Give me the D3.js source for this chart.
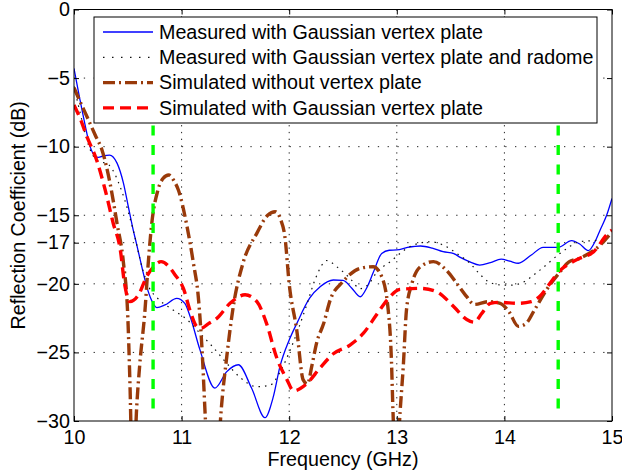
<!DOCTYPE html>
<html>
<head>
<meta charset="utf-8">
<script src="https://cdn.jsdelivr.net/npm/d3@7"></script>
<style>
  body { margin: 0; background: #fff; }
  text { font-family: "Liberation Sans", Arial, sans-serif; font-size: 19.7px; fill: #000; }
</style>
</head>
<body>
<div id="chart"></div>
<script>
// values: [frequency GHz, reflection dB]
var measured = [[10.0,-4.3],[10.056,-6.6],[10.10,-8.3],[10.15,-10.0],[10.195,-10.68],[10.226,-10.78],[10.27,-10.68],
  [10.33,-10.61],[10.40,-11.2],[10.46,-12.67],[10.505,-14.38],[10.55,-16.07],[10.58,-17.05],[10.63,-18.75],
  [10.676,-20.2],[10.72,-21.18],[10.77,-21.74],[10.846,-21.54],[10.955,-21.06],[11.03,-21.42],[11.08,-22.4],
  [11.17,-24.8],[11.31,-27.6],[11.42,-26.4],[11.527,-25.9],[11.65,-27.6],[11.775,-29.76],[11.85,-28.3],
  [11.915,-26.0],[12.0,-24.1],[12.07,-22.9],[12.19,-21.05],[12.29,-20.2],[12.41,-19.72],[12.50,-19.75],
  [12.58,-20.3],[12.66,-20.94],[12.72,-20.3],[12.78,-19.2],[12.86,-17.78],[12.93,-17.55],[13.0,-17.53],
  [13.1,-17.35],[13.22,-17.24],[13.33,-17.4],[13.43,-17.66],[13.53,-17.8],[13.59,-18.07],[13.68,-18.4],
  [13.77,-18.63],[13.87,-18.45],[13.97,-18.2],[14.05,-18.35],[14.13,-18.5],[14.25,-17.9],[14.36,-17.34],
  [14.5,-17.34],[14.625,-16.85],[14.70,-17.1],[14.78,-17.58],[14.85,-16.8],[14.89,-16.07],[14.95,-15.0],[15.0,-13.77]];

var measuredRadome = [[10.0,-5.6],[10.05,-7.3],[10.09,-8.6],[10.14,-10.0],[10.2,-10.9],[10.25,-11.1],[10.32,-11.3],
  [10.44,-13.16],[10.55,-16.07],[10.64,-19.0],[10.70,-20.3],[10.77,-21.0],[10.92,-21.9],[11.05,-22.6],
  [11.17,-23.6],[11.29,-24.6],[11.42,-25.8],[11.54,-26.8],[11.70,-27.5],[11.82,-27.4],[11.91,-26.5],
  [12.0,-25.0],[12.08,-23.4],[12.16,-21.6],[12.25,-19.5],[12.35,-18.3],[12.45,-18.8],[12.565,-19.6],
  [12.66,-20.35],[12.74,-20.0],[12.81,-19.2],[12.94,-18.38],[13.12,-17.3],[13.31,-16.93],[13.43,-17.17],
  [13.56,-17.8],[13.68,-18.5],[13.76,-19.2],[13.85,-19.84],[13.96,-20.08],[14.05,-20.1],[14.15,-19.96],
  [14.33,-19.0],[14.52,-17.77],[14.70,-16.93],[14.89,-16.8],[15.0,-16.3]];

var simNoPlate = [[10.0,-5.7],[10.05,-6.6],[10.12,-7.8],[10.2,-9.2],[10.26,-10.24],[10.335,-12.67],[10.40,-15.6],
  [10.46,-18.5],[10.50,-22.4],[10.52,-27.25],[10.548,-36],[10.58,-29.4],[10.61,-26.0],[10.66,-21.9],
  [10.69,-18.5],[10.72,-15.8],[10.78,-13.16],[10.83,-12.3],[10.88,-12.07],[10.93,-12.5],[10.97,-13.16],
  [11.05,-15.8],[11.11,-18.5],[11.155,-20.94],[11.19,-24.8],[11.22,-29.7],[11.29,-40],[11.366,-29.4],
  [11.42,-25.3],[11.48,-21.67],[11.57,-18.5],[11.70,-16.3],[11.80,-15.0],[11.87,-14.74],[11.92,-15.3],
  [11.96,-16.56],[12.0,-20.0],[12.07,-23.37],[12.13,-27.0],[12.17,-27.3],[12.21,-26.0],[12.255,-24.3],
  [12.32,-22.9],[12.38,-21.2],[12.50,-19.84],[12.66,-18.87],[12.78,-18.75],[12.86,-19.48],[12.92,-21.9],
  [12.95,-25.55],[12.965,-29.4],[12.995,-34],[13.03,-29.4],[13.06,-26.04],[13.09,-21.9],[13.14,-20.0],
  [13.22,-18.75],[13.34,-18.38],[13.46,-19.0],[13.56,-20.0],[13.65,-20.94],[13.72,-21.5],[13.85,-21.3],
  [13.96,-21.42],[14.04,-22.0],[14.13,-23.1],[14.2,-22.9],[14.28,-21.9],[14.39,-20.45],[14.52,-19.1],
  [14.60,-18.4],[14.70,-18.14],[14.89,-17.17],[15.0,-16.2]];

var simPlate = [[10.0,-6.96],[10.06,-8.0],[10.12,-9.27],[10.21,-10.97],[10.29,-13.16],[10.365,-15.6],[10.43,-17.5],
  [10.47,-20.0],[10.52,-21.3],[10.60,-20.8],[10.675,-19.48],[10.74,-18.75],[10.81,-18.38],[10.94,-19.35],
  [11.02,-20.4],[11.08,-22.0],[11.14,-23.1],[11.18,-23.24],[11.25,-22.9],[11.33,-22.5],[11.45,-21.42],
  [11.59,-20.8],[11.70,-21.3],[11.79,-22.9],[11.88,-25.3],[11.98,-27.0],[12.04,-27.8],[12.16,-27.3],
  [12.29,-26.1],[12.41,-25.1],[12.565,-24.46],[12.69,-23.6],[12.81,-22.27],[12.91,-21.18],[13.03,-20.4],
  [13.22,-20.33],[13.37,-20.57],[13.53,-21.67],[13.65,-22.6],[13.72,-22.8],[13.79,-22.15],[13.87,-21.42],
  [13.96,-21.35],[14.13,-21.42],[14.25,-21.3],[14.33,-20.9],[14.42,-20.0],[14.52,-19.0],[14.61,-18.5],
  [14.70,-18.14],[14.83,-17.66],[14.95,-16.44],[15.0,-16.07]];

var bandEdges = [10.735, 14.5];
var xTicks = [10, 11, 12, 13, 14, 15];
var yTicks = [0, -5, -10, -15, -17, -20, -25, -30];
var legendLabels = ['Measured with Gaussian vertex plate',
                    'Measured with Gaussian vertex plate and radome',
                    'Simulated without vertex plate',
                    'Simulated with Gaussian vertex plate'];

var width = 622, height = 474;
var pLeft = 74, pRight = 612, pTop = 9.5, pBottom = 421;

var svg = d3.select('#chart').append('svg')
    .attr('width', width)
    .attr('height', height);

var x = d3.scaleLinear().domain([10, 15]).range([pLeft, pRight]);
var y = d3.scaleLinear().domain([-30, 0]).range([pBottom, pTop]);

// grid
svg.append('g').selectAll('line')
    .data(xTicks.slice(1, -1))
    .join('line')
    .attr('x1', d => x(d)).attr('x2', d => x(d))
    .attr('y1', pTop).attr('y2', pBottom)
    .attr('stroke', '#222').attr('stroke-width', 1)
    .attr('stroke-dasharray', '1.3,5.5');

svg.append('g').selectAll('line')
    .data(yTicks.slice(1, -1))
    .join('line')
    .attr('x1', pLeft).attr('x2', pRight)
    .attr('y1', d => y(d)).attr('y2', d => y(d))
    .attr('stroke', '#222').attr('stroke-width', 1)
    .attr('stroke-dasharray', '1.3,8.5');

svg.append('clipPath').attr('id', 'clip')
  .append('rect')
    .attr('x', pLeft).attr('y', pTop)
    .attr('width', pRight - pLeft).attr('height', pBottom - pTop);

var line = d3.line()
    .x(d => x(d[0]))
    .y(d => y(d[1]))
    .curve(d3.curveMonotoneX);

var series = [
  {data: measured, color: '#0000ff', w: 1.3, dash: null},
  {data: measuredRadome, color: '#111', w: 1.2, dash: '1.5,5'},
  {data: simNoPlate, color: '#993a0a', w: 3.4, dash: '12,4,2,4'},
  {data: simPlate, color: '#ff0000', w: 3.4, dash: '11,6'}
];

var plot = svg.append('g').attr('clip-path', 'url(#clip)');

series.forEach(function (s) {
  plot.append('path')
      .datum(s.data)
      .attr('d', line)
      .attr('fill', 'none')
      .attr('stroke', s.color)
      .attr('stroke-width', s.w)
      .attr('stroke-dasharray', s.dash);
});

// band edge markers
plot.selectAll('.edge')
    .data(bandEdges)
    .join('line')
    .attr('class', 'edge')
    .attr('x1', d => x(d)).attr('x2', d => x(d))
    .attr('y1', y(-8.45)).attr('y2', y(-29.5))
    .attr('stroke', '#00ff00')
    .attr('stroke-width', 3.4)
    .attr('stroke-dasharray', '10,9.5');

// axes with inward ticks
var fmt = d3.format('');
svg.append('g')
    .attr('transform', `translate(0,${pBottom})`)
    .call(d3.axisBottom(x).tickValues(xTicks).tickSizeInner(-5).tickSizeOuter(0).tickPadding(9).tickFormat(fmt))
    .call(g => g.select('.domain').remove())
    .call(g => g.selectAll('text').style('font-size', '19.7px').attr('font-family', null));

svg.append('g')
    .attr('transform', `translate(0,${pTop})`)
    .call(d3.axisTop(x).tickValues(xTicks).tickSizeInner(-5).tickSizeOuter(0).tickFormat(''))
    .call(g => g.select('.domain').remove());

svg.append('g')
    .attr('transform', `translate(${pLeft},0)`)
    .call(d3.axisLeft(y).tickValues(yTicks).tickSizeInner(-5).tickSizeOuter(0).tickPadding(4).tickFormat(fmt))
    .call(g => g.select('.domain').remove())
    .call(g => g.selectAll('text').style('font-size', '19.7px').attr('font-family', null));

svg.append('g')
    .attr('transform', `translate(${pRight},0)`)
    .call(d3.axisRight(y).tickValues(yTicks).tickSizeInner(-5).tickSizeOuter(0).tickFormat(''))
    .call(g => g.select('.domain').remove());

svg.append('rect')
    .attr('x', pLeft).attr('y', pTop)
    .attr('width', pRight - pLeft).attr('height', pBottom - pTop)
    .attr('fill', 'none').attr('stroke', '#000').attr('stroke-width', 1);

svg.append('text')
    .attr('x', (pLeft + pRight) / 2)
    .attr('y', 466)
    .attr('text-anchor', 'middle')
    .text('Frequency (GHz)');

svg.append('text')
    .attr('transform', `translate(25,${(pTop + pBottom) / 2})rotate(-90)`)
    .attr('text-anchor', 'middle')
    .text('Reflection Coefficient (dB)');

// legend
var legend = svg.append('g');
legend.append('rect')
    .attr('x', 94).attr('y', 17)
    .attr('width', 503).attr('height', 106)
    .attr('fill', '#fff').attr('stroke', '#000').attr('stroke-width', 1);

var legendDash = [null, '1.5,7.5', '12,4,2,4', '11,6'];
legendLabels.forEach(function (label, i) {
  var ly = 32 + i * 25.3;
  legend.append('line')
      .attr('x1', 103).attr('x2', 153)
      .attr('y1', ly).attr('y2', ly)
      .attr('stroke', series[i].color)
      .attr('stroke-width', series[i].w)
      .attr('stroke-dasharray', legendDash[i]);
  legend.append('text')
      .attr('x', 159)
      .attr('y', ly)
      .attr('dy', '0.35em')
      .text(label);
});
</script>
</body>
</html>
